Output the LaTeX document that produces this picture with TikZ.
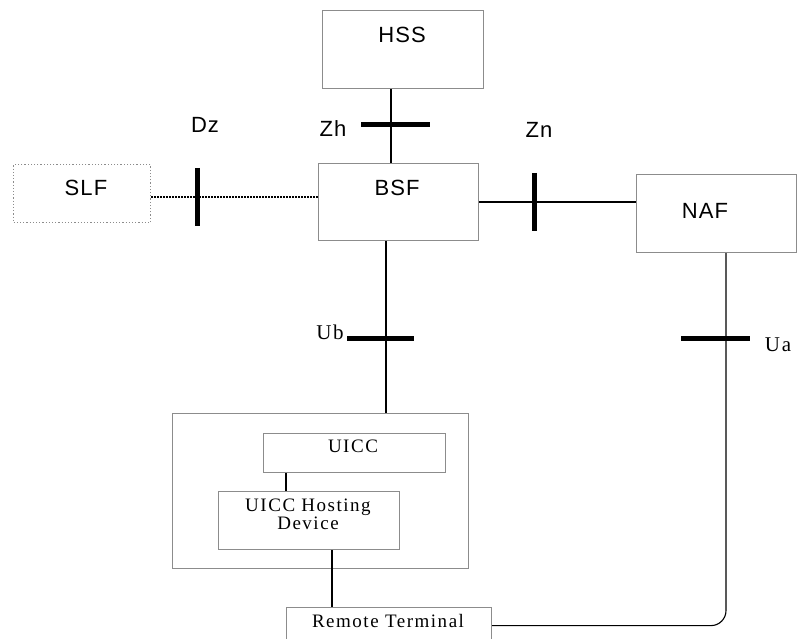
\documentclass[tikz,border=0pt]{standalone}
\usepackage{fontspec}
\usetikzlibrary{calc}
\setmainfont{Liberation Serif}
\newfontfamily\lsans[LetterSpace=5]{Liberation Sans}
\newfontfamily\lserif[LetterSpace=8]{Liberation Serif}
\definecolor{boxgray}{HTML}{8C8C8C}
\tikzset{
  box/.style={draw=boxgray, line width=1.2pt, anchor=north west, inner sep=0pt},
  dotbox/.style={draw=boxgray, line width=1.2pt, dotted, anchor=north west, inner sep=0pt},
  conn/.style={draw=black, line width=1.3pt},
  dotconn/.style={draw=black, line width=2.4pt, dash pattern=on 2pt off 1pt},
  ifbar/.style={draw=black, line width=5pt},
  sanslbl/.style={font=\lsans\fontsize{22}{22}\selectfont, anchor=base, inner sep=0pt},
  seriflbl/.style={font=\lserif\fontsize{19}{19}\selectfont, anchor=base, inner sep=0pt, align=center},
  ifserif/.style={font=\lserif\fontsize{21}{21}\selectfont, anchor=base, inner sep=0pt},
}
\begin{document}
\begin{tikzpicture}[x=1pt,y=-1pt]
\useasboundingbox (0,0) rectangle (797,639);
\clip (0,0) rectangle (797,639);

% boxes
\node[box, minimum width=161pt, minimum height=78pt] (hss) at (322,10) {};
\node[box, minimum width=160pt, minimum height=77pt] (bsf) at (318,163) {};
\node[dotbox, minimum width=137pt, minimum height=58pt] (slf) at (13,164) {};
\node[box, minimum width=160pt, minimum height=78pt] (naf) at (636,174) {};
\node[box, minimum width=296pt, minimum height=155pt] (outer) at (172,413) {};
\node[box, minimum width=182pt, minimum height=39pt] (uicc) at (263,433) {};
\node[box, minimum width=181pt, minimum height=58pt] (host) at (218,491) {};
\node[box, minimum width=205pt, minimum height=36pt] (rt) at (286,607) {};

% box texts
\node[sanslbl] (thss) at (402,43) {HSS};
\node[sanslbl] (tbsf) at (397,196) {BSF};
\node[sanslbl] (tslf) at (86,196) {SLF};
\node[sanslbl] (tnaf) at (705,218) {NAF};
\node[seriflbl] (tuicc) at (353,452) {UICC};
\node[seriflbl] (thost1) at (308,511) {UICC Hosting};
\node[seriflbl] (thost2) at (308,529) {Device};
\node[seriflbl] (trt) at (388,627) {Remote Terminal};

% interface coordinates
\coordinate (zh) at (391,125);
\coordinate (dz) at (197,197);
\coordinate (zn) at (534,202);
\coordinate (ub) at (386,338);
\coordinate (ua) at (726,338);
\coordinate (uh) at (286,480);
\coordinate (hr) at (332,580);

% connectors
\draw[conn] (zh |- hss.south) -- (zh |- bsf.north);
\draw[dotconn] (dz -| slf.east) -- (dz -| bsf.west);
\draw[conn] (zn -| bsf.east) -- (zn -| naf.west);
\draw[conn] (ub |- bsf.south) -- (ub |- outer.north);
\draw[conn, line width=1.1pt, rounded corners=15pt] (ua |- naf.south) -- (ua |- rt.east) -- (rt.east);
\draw[conn] (uh |- uicc.south) -- (uh |- host.north);
\draw[conn] (hr |- host.south) -- (hr |- rt.north);

% interface bars
\draw[ifbar] ($(zh)+(-30,0)$) -- ($(zh)+(39,0)$);
\draw[ifbar] ($(dz)+(0,-29)$) -- ($(dz)+(0,29)$);
\draw[ifbar] ($(zn)+(0,-29)$) -- ($(zn)+(0,29)$);
\draw[ifbar] ($(ub)+(-39,0)$) -- ($(ub)+(28,0)$);
\draw[ifbar] ($(ua)+(-45,0)$) -- ($(ua)+(24,0)$);

% interface labels
\node[sanslbl] (ldz) at (205,133) {Dz};
\node[sanslbl] (lzh) at (333,137) {Zh};
\node[sanslbl] (lzn) at (539,138) {Zn};
\node[ifserif] (lub) at (330,339) {Ub};
\node[ifserif] (lua) at (778,351) {Ua};
\end{tikzpicture}
\end{document}
